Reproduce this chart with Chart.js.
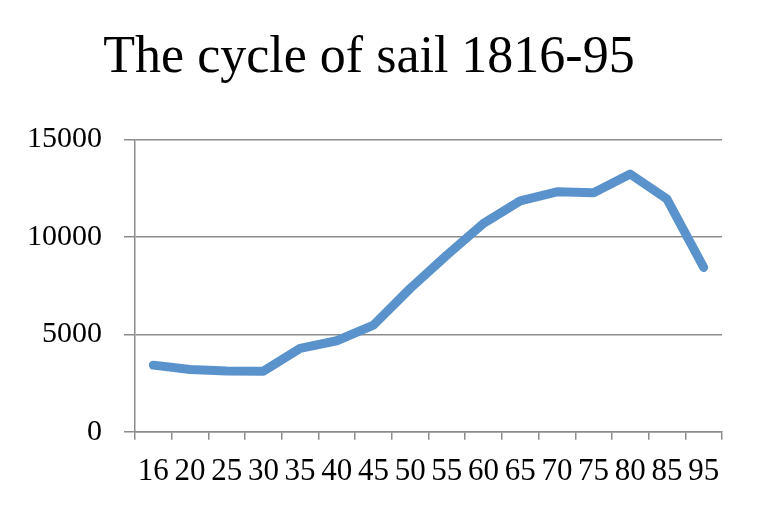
<!DOCTYPE html>
<html>
<head>
<meta charset="utf-8">
<script src="https://cdn.jsdelivr.net/npm/chart.js@4"></script>
<style>
  html, body { margin: 0; padding: 0; background: #fff; }
  #wrap { width: 768px; height: 514px; }
</style>
</head>
<body>
<div id="wrap"><canvas id="c" width="768" height="514"></canvas></div>
<script>
// years (1816..1895, shown as two digits)
const years = ['16', '20', '25', '30', '35', '40', '45', '50', '55', '60', '65', '70', '75', '80', '85', '95'];
// sail tonnage
const sail = [3420, 3200, 3120, 3110, 4280, 4670, 5470, 7350, 9060, 10690, 11850, 12310, 12260, 13220, 11940, 8430];
const yTicks = [0, 5000, 10000, 15000];

const serif = "'Liberation Serif', 'Times New Roman', serif";
const gray = '#8c8c8c';

new Chart(document.getElementById('c'), {
  type: 'line',
  data: {
    labels: years,
    datasets: [{
      data: sail,
      borderColor: '#5a92cb',
      borderWidth: 9,
      borderCapStyle: 'round',
      borderJoinStyle: 'round',
      pointRadius: 0,
      tension: 0,
      fill: false
    }]
  },
  options: {
    responsive: false,
    animation: false,
    layout: { padding: { left: 16, right: 46, top: 0, bottom: 11 } },
    plugins: {
      legend: { display: false },
      tooltip: { enabled: false },
      title: {
        display: true,
        text: 'The cycle of sail 1816-95',
        color: '#000',
        font: { family: serif, size: 52, weight: 'normal' },
        padding: { top: 27, bottom: 50 }
      }
    },
    scales: {
      x: {
        offset: true,
        grid: { display: true, drawOnChartArea: false, drawTicks: true, tickLength: 8, color: gray, lineWidth: 1.5, offset: true },
        border: { display: true, color: gray, width: 1.5 },
        ticks: { color: '#000', font: { family: serif, size: 31 }, autoSkip: false, maxRotation: 0, padding: 13 }
      },
      y: {
        min: 0,
        max: 15000,
        afterBuildTicks: (axis) => { axis.ticks = yTicks.map(v => ({ value: v })); },
        afterFit: (axis) => { axis.width = 119; },
        grid: { color: gray, lineWidth: 1.5, tickLength: 11 },
        border: { display: true, color: gray, width: 1.5 },
        ticks: { color: '#000', font: { family: serif, size: 30 }, padding: 22, callback: (v) => String(v) }
      }
    }
  }
});
</script>
</body>
</html>
